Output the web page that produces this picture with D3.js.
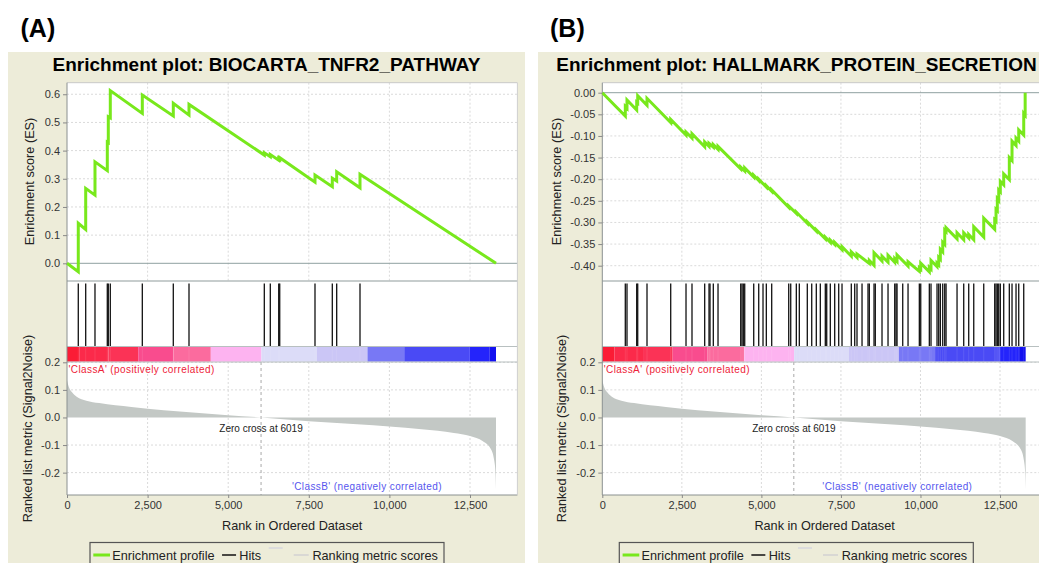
<!DOCTYPE html>
<html>
<head>
<meta charset="utf-8">
<script src="https://cdn.jsdelivr.net/npm/d3@7"></script>
<style>
    body { margin: 0; background: #fff; }
    svg { display: block; font-family: "Liberation Sans", Arial, sans-serif; }
</style>
</head>
<body>
<svg id="chart" width="1039" height="563"></svg>
<script>
// ranked list shared by both plots
const rankTicks = [0, 2500, 5000, 7500, 10000, 12500]
const metricTicks = [0.2, 0.1, 0, -0.1, -0.2]
const metricRanks = [0, 60, 150, 300, 600, 1000, 2000, 3000, 4000, 5000, 6019, 7000, 8000, 9000, 10000, 11000, 12000, 12500, 12900, 13150, 13250, 13290, 13306]
const metricValues = [0.135, 0.11, 0.092, 0.075, 0.061, 0.052, 0.038, 0.026, 0.017, 0.008, 0, -0.009, -0.017, -0.025, -0.033, -0.043, -0.056, -0.067, -0.086, -0.115, -0.155, -0.2, -0.26]
const barBreaks = [0, 380, 1280, 2210, 3300, 4460, 6030, 7750, 9320, 10460, 12480, 13100, 13306]
const barColors = ['#fb1c35', '#fb2a4a', '#fb3356', '#f94c8e', '#fb6b9e', '#fdb3f0', '#dcdcf8', '#cbc6f6', '#7878f5', '#4a4af5', '#2424fb', '#1210f0']

// (A) BIOCARTA_TNFR2_PATHWAY
const hitsA = [350, 580, 868, 1250, 1281, 1343, 2336, 3297, 3784, 6120, 6306, 6567, 6598, 7692, 8229, 8365, 9088]
const esA = [[0, 0], [350, -0.03], [350, 0.142], [580, 0.12], [580, 0.266], [868, 0.242], [868, 0.36],
    [1250, 0.329], [1250, 0.43], [1281, 0.428], [1281, 0.52], [1343, 0.516], [1343, 0.613],
    [2336, 0.532], [2336, 0.597], [3297, 0.523], [3297, 0.568], [3784, 0.526], [3784, 0.564],
    [6120, 0.384], [6120, 0.392], [6306, 0.378], [6306, 0.386], [6567, 0.366], [6567, 0.372],
    [6598, 0.369], [6598, 0.375], [7692, 0.288], [7692, 0.313], [8229, 0.272], [8229, 0.302],
    [8365, 0.292], [8365, 0.325], [9088, 0.268], [9088, 0.316], [13306, 0]]
const esTicksA = [0, 0.1, 0.2, 0.3, 0.4, 0.5, 0.6]

// (B) HALLMARK_PROTEIN_SECRETION
const hitsB = [723, 776, 1081, 1113, 1405, 2150, 2631, 2819, 3218, 3354, 3385, 3489, 3637, 4350, 4391, 4432, 4476,
    4759, 4916, 5051, 5155, 5324, 5859, 5922, 6098, 6192, 6443, 6582, 6726, 6852, 7009, 7053, 7166, 7304, 7430,
    7534, 7826, 7933, 8005, 8163, 8351, 8392, 8540, 8580, 8791, 8980, 9190, 9231, 9263, 9442, 9609, 9964, 10008,
    10278, 10331, 10520, 10573, 10624, 10699, 10762, 10803, 11149, 11359, 11516, 11674, 11988, 12333, 12374,
    12415, 12459, 12509, 12616, 12792, 12877, 13003, 13088, 13245]
const esB = [[0, 0], [723, -0.054], [723, -0.032], [776, -0.036], [776, -0.017], [1081, -0.040], [1081, -0.022],
    [1113, -0.024], [1113, -0.007], [1405, -0.029], [1405, -0.013], [2150, -0.069], [2150, -0.062],
    [2631, -0.098], [2631, -0.091], [2819, -0.105], [2819, -0.095], [3218, -0.125], [3218, -0.114],
    [3354, -0.124], [3354, -0.117], [3489, -0.126], [3489, -0.120], [3637, -0.131], [3637, -0.124],
    [4350, -0.176], [4350, -0.172], [4476, -0.181], [4476, -0.174], [4759, -0.195], [4759, -0.191],
    [4916, -0.203], [4916, -0.200], [5155, -0.218], [5155, -0.215], [5324, -0.228], [5324, -0.225],
    [5859, -0.265], [5859, -0.262], [6098, -0.279], [6098, -0.276], [6443, -0.302], [6443, -0.299],
    [6726, -0.320], [6726, -0.317], [7009, -0.338], [7009, -0.334], [7166, -0.346], [7166, -0.341],
    [7304, -0.351], [7304, -0.346], [7534, -0.363], [7534, -0.356], [7826, -0.378], [7826, -0.368],
    [8005, -0.381], [8005, -0.373], [8392, -0.395], [8392, -0.388], [8540, -0.399], [8540, -0.370],
    [8791, -0.389], [8791, -0.378], [8980, -0.392], [8980, -0.376], [9190, -0.392], [9190, -0.384],
    [9263, -0.390], [9263, -0.375], [9609, -0.401], [9609, -0.391], [9964, -0.413], [9964, -0.405],
    [10008, -0.408], [10008, -0.394], [10278, -0.414], [10278, -0.404], [10331, -0.408], [10331, -0.388],
    [10520, -0.402], [10520, -0.394], [10573, -0.398], [10573, -0.381], [10624, -0.385], [10624, -0.362],
    [10699, -0.368], [10699, -0.346], [10762, -0.351], [10762, -0.318], [10803, -0.321], [10803, -0.312],
    [11149, -0.338], [11149, -0.324], [11359, -0.340], [11359, -0.324], [11516, -0.336], [11516, -0.328],
    [11674, -0.340], [11674, -0.310], [11988, -0.334], [11988, -0.290], [12333, -0.316], [12333, -0.294],
    [12374, -0.297], [12374, -0.270], [12415, -0.273], [12415, -0.245], [12459, -0.249], [12459, -0.225],
    [12509, -0.229], [12509, -0.205], [12616, -0.213], [12616, -0.188], [12792, -0.201], [12792, -0.150],
    [12877, -0.157], [12877, -0.112], [13003, -0.122], [13003, -0.105], [13088, -0.112], [13088, -0.086],
    [13245, -0.098], [13245, -0.048], [13290, -0.052], [13290, 0]]
const esTicksB = [0, -0.05, -0.1, -0.15, -0.2, -0.25, -0.3, -0.35, -0.4]

const svg = d3.select('#chart')
svg.append('rect').attr('width', 1039).attr('height', 563).attr('fill', '#fff')

const beige = '#edecd9'
const green = '#78e81c'
const metric = metricRanks.map((r, i) => [r, metricValues[i]])

function styleAxis(ax) {
    ax.select('.domain').remove()
    ax.selectAll('.tick line').attr('stroke', '#888')
    ax.selectAll('.tick text').style('font-size', '11px').attr('fill', '#333')
}

function drawPanel(p) {
    const g = svg.append('g')
    g.append('rect')
        .attr('x', p.left).attr('y', 52)
        .attr('width', 517).attr('height', 530)
        .attr('fill', beige)

    svg.append('text')
        .attr('x', p.letterX).attr('y', 36.5)
        .style('font-size', '25px').style('font-weight', 'bold')
        .text(p.letter)

    g.append('text')
        .attr('x', p.left + 258.5).attr('y', 70.5)
        .attr('text-anchor', 'middle')
        .style('font-size', '19px').style('font-weight', 'bold')
        .text(p.title)

    const x = d3.scaleLinear().domain([0, 13970]).range([p.plotL, p.plotR])
    const yEs = d3.scaleLinear().domain(p.esDomain).range([281, 82.7])
    const yM = d3.scaleLinear().domain([-0.28, 0.2]).range([494.7, 362.3])

    g.append('rect')
        .attr('x', p.plotL).attr('y', 82.7)
        .attr('width', p.plotR - p.plotL).attr('height', 495 - 82.7)
        .attr('fill', '#fff')

    // grid of the ES plot
    g.selectAll('.esGridY').data(p.esTicks.filter(d => d !== 0)).enter().append('line')
        .attr('x1', p.plotL).attr('x2', p.plotR)
        .attr('y1', d => yEs(d)).attr('y2', d => yEs(d))
        .attr('stroke', '#dadada').attr('stroke-dasharray', '2,2')
    g.selectAll('.esGridX').data(rankTicks.slice(1)).enter().append('line')
        .attr('x1', d => x(d)).attr('x2', d => x(d))
        .attr('y1', 82.7).attr('y2', 281)
        .attr('stroke', '#dadada').attr('stroke-dasharray', '2,2')
    g.append('line')
        .attr('x1', p.plotL).attr('x2', p.plotR)
        .attr('y1', yEs(0)).attr('y2', yEs(0))
        .attr('stroke', '#8fa0a0')

    // grid of the metric plot
    g.selectAll('.mGridY').data(metricTicks.filter(d => d !== 0)).enter().append('line')
        .attr('x1', p.plotL).attr('x2', p.plotR)
        .attr('y1', d => yM(d)).attr('y2', d => yM(d))
        .attr('stroke', '#dadada').attr('stroke-dasharray', '2,2')
    g.selectAll('.mGridX').data(rankTicks.slice(1)).enter().append('line')
        .attr('x1', d => x(d)).attr('x2', d => x(d))
        .attr('y1', 362).attr('y2', 495)
        .attr('stroke', '#dadada').attr('stroke-dasharray', '2,2')

    const area = d3.area()
        .x(d => x(d[0]))
        .y0(yM(0))
        .y1(d => yM(d[1]))
        .curve(d3.curveMonotoneX)
    g.append('path').datum(metric)
        .attr('d', area)
        .attr('fill', '#c3c8c5')

    // zero cross
    g.append('line')
        .attr('x1', x(6019)).attr('x2', x(6019))
        .attr('y1', 362).attr('y2', 495)
        .attr('stroke', '#a8a8a8').attr('stroke-dasharray', '3,3')
    g.append('text')
        .attr('x', x(6019)).attr('y', 431.8)
        .attr('text-anchor', 'middle')
        .style('font-size', '10px').attr('fill', '#222')
        .text('Zero cross at 6019')

    g.append('text')
        .attr('x', p.plotL + 1.5).attr('y', 373)
        .style('font-size', '10px').style('letter-spacing', '0.4px')
        .attr('fill', '#ee2238')
        .text("'ClassA' (positively correlated)")
    g.append('text')
        .attr('x', x(11630)).attr('y', 489.5)
        .attr('text-anchor', 'end')
        .style('font-size', '10px').style('letter-spacing', '0.4px')
        .attr('fill', '#5656ee')
        .text("'ClassB' (negatively correlated)")

    // colour bar of the ranked list
    g.selectAll('.bar').data(barColors).enter().append('rect')
        .attr('x', (d, i) => x(barBreaks[i]))
        .attr('width', (d, i) => x(barBreaks[i + 1]) - x(barBreaks[i]))
        .attr('y', 347).attr('height', 14.7)
        .attr('fill', d => d)
    g.selectAll('.barHit').data(p.hits).enter().append('line')
        .attr('x1', d => x(d)).attr('x2', d => x(d))
        .attr('y1', 347).attr('y2', 361.7)
        .attr('stroke', '#fff').attr('stroke-opacity', 0.1)

    // hits
    g.selectAll('.hit').data(p.hits).enter().append('line')
        .attr('x1', d => x(d)).attr('x2', d => x(d))
        .attr('y1', 283.5).attr('y2', 346)
        .attr('stroke', '#111').attr('stroke-width', 1.3)

    // borders between the three parts
    const seps = [[82.7, '#c8c8c8', 1], [281, '#b4bcbc', 1.5], [346.5, '#b8c0c0', 1], [362, '#b8c0c0', 1], [495, '#8a9090', 1]]
    g.selectAll('.sep').data(seps).enter().append('line')
        .attr('x1', p.plotL).attr('x2', p.plotR)
        .attr('y1', d => d[0]).attr('y2', d => d[0])
        .attr('stroke', d => d[1]).attr('stroke-width', d => d[2])
    g.append('line')
        .attr('x1', p.plotL).attr('x2', p.plotL)
        .attr('y1', 82.7).attr('y2', 495)
        .attr('stroke', '#8a9090')
    g.append('line')
        .attr('x1', p.plotR).attr('x2', p.plotR)
        .attr('y1', 82.7).attr('y2', 495)
        .attr('stroke', '#cfcfcf')

    // enrichment profile
    const line = d3.line()
        .x(d => x(d[0]))
        .y(d => yEs(d[1]))
    g.append('path').datum(p.es)
        .attr('d', line)
        .attr('fill', 'none')
        .attr('stroke', green).attr('stroke-width', 3)

    // axes
    const axEs = g.append('g')
        .attr('transform', `translate(${p.plotL},0)`)
        .call(d3.axisLeft(yEs).tickValues(p.esTicks).tickFormat(p.esFmt).tickSize(4).tickPadding(3))
    styleAxis(axEs)
    const axM = g.append('g')
        .attr('transform', `translate(${p.plotL},0)`)
        .call(d3.axisLeft(yM).tickValues(metricTicks).tickFormat(d => d.toFixed(1)).tickSize(4).tickPadding(3))
    styleAxis(axM)
    const axX = g.append('g')
        .attr('transform', 'translate(0,495)')
        .call(d3.axisBottom(x).tickValues(rankTicks).tickFormat(d3.format(',')).tickSize(3).tickPadding(3))
    styleAxis(axX)

    g.append('text')
        .attr('x', (p.plotL + p.plotR) / 2).attr('y', 529.5)
        .attr('text-anchor', 'middle')
        .style('font-size', '12.7px').attr('fill', '#222')
        .text('Rank in Ordered Dataset')
    g.append('text')
        .attr('transform', `translate(${p.esLabelX},181.5) rotate(-90)`)
        .attr('text-anchor', 'middle')
        .style('font-size', '12.7px').attr('fill', '#222')
        .text('Enrichment score (ES)')
    g.append('text')
        .attr('transform', `translate(${p.metricLabelX},428.5) rotate(-90)`)
        .attr('text-anchor', 'middle')
        .style('font-size', '12.7px').attr('fill', '#222')
        .text('Ranked list metric (Signal2Noise)')

    // legend
    const lg = g.append('g')
    lg.append('rect')
        .attr('x', p.legendL).attr('y', 542.5)
        .attr('width', 354).attr('height', 30)
        .attr('fill', beige).attr('stroke', '#555').attr('stroke-width', 1.2)
    let cx = p.legendL + 3.3
    const ly = 555
    function legLine(len, color, dy, w) {
        lg.append('line')
            .attr('x1', cx).attr('x2', cx + len)
            .attr('y1', ly + dy).attr('y2', ly + dy)
            .attr('stroke', color).attr('stroke-width', w)
        cx += len
    }
    function legText(t) {
        const el = lg.append('text')
            .attr('x', cx).attr('y', ly + 4.6)
            .style('font-size', '12.7px').attr('fill', '#222')
            .text(t)
        cx += el.node().getComputedTextLength()
    }
    legLine(16.7, green, 0, 3)
    cx += 2.3
    legText('Enrichment profile')
    cx += 7.5
    legLine(14, '#111', 0, 1.5)
    cx += 3.3
    legText('Hits')
    cx += 7.5
    legLine(14, '#dcdcdc', -7, 2)
    cx += 11
    legLine(15, '#d2d2d2', 0, 1.5)
    cx += 3.7
    legText('Ranking metric scores')
}

drawPanel({
    left: 8, letter: '(A)', letterX: 20.5,
    title: 'Enrichment plot: BIOCARTA_TNFR2_PATHWAY',
    plotL: 67, plotR: 517.4,
    es: esA, hits: hitsA,
    esDomain: [-0.0628, 0.641], esTicks: esTicksA, esFmt: d => d.toFixed(1),
    esLabelX: 33.5, metricLabelX: 31.6, legendL: 90
})

drawPanel({
    left: 538, letter: '(B)', letterX: 550,
    title: 'Enrichment plot: HALLMARK_PROTEIN_SECRETION',
    plotL: 602.3, plotR: 1046.8,
    es: esB, hits: hitsB,
    esDomain: [-0.4354, 0.0231], esTicks: esTicksB, esFmt: d => d.toFixed(2),
    esLabelX: 560.6, metricLabelX: 566.3, legendL: 619.3
})
</script>
</body>
</html>
